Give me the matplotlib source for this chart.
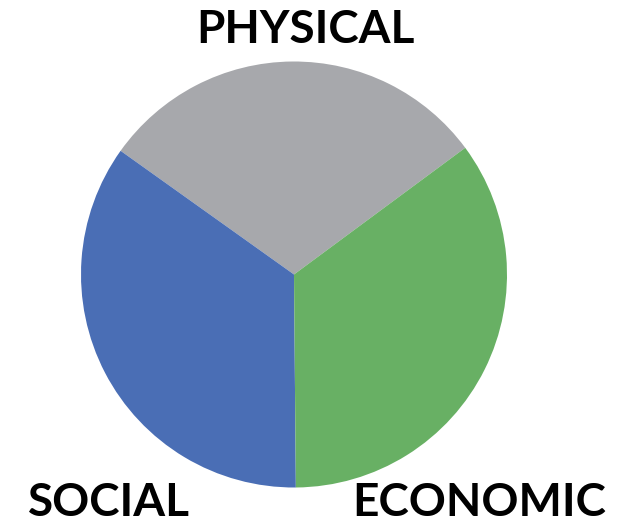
import matplotlib
matplotlib.use("Agg")
import matplotlib.pyplot as plt

# slice shares
labels = ["PHYSICAL", "SOCIAL", "ECONOMIC"]
shares = [30, 35, 35]
colors = ["#A7A8AC", "#4A6EB5", "#68B064"]

W, H = 618, 524
fig = plt.figure(figsize=(W / 100, H / 100), dpi=100)
ax = fig.add_axes([0, 0, 1, 1])

ax.pie(shares, colors=colors, startangle=36.5, counterclock=True,
       center=(294, H - 274.5), radius=213, frame=True,
       wedgeprops=dict(linewidth=0))
ax.set_xlim(0, W)
ax.set_ylim(0, H)
ax.set_aspect("equal")
ax.axis("off")

font = dict(family=["Lato", "DejaVu Sans"], fontweight="bold", fontsize=33, color="black")
ax.text(305, H - 30, labels[0], ha="center", va="center", **font)
ax.text(109, H - 503, labels[1], ha="center", va="center", **font)
ax.text(479, H - 503, labels[2], ha="center", va="center", **font)

fig.savefig("out.png", dpi=100)
